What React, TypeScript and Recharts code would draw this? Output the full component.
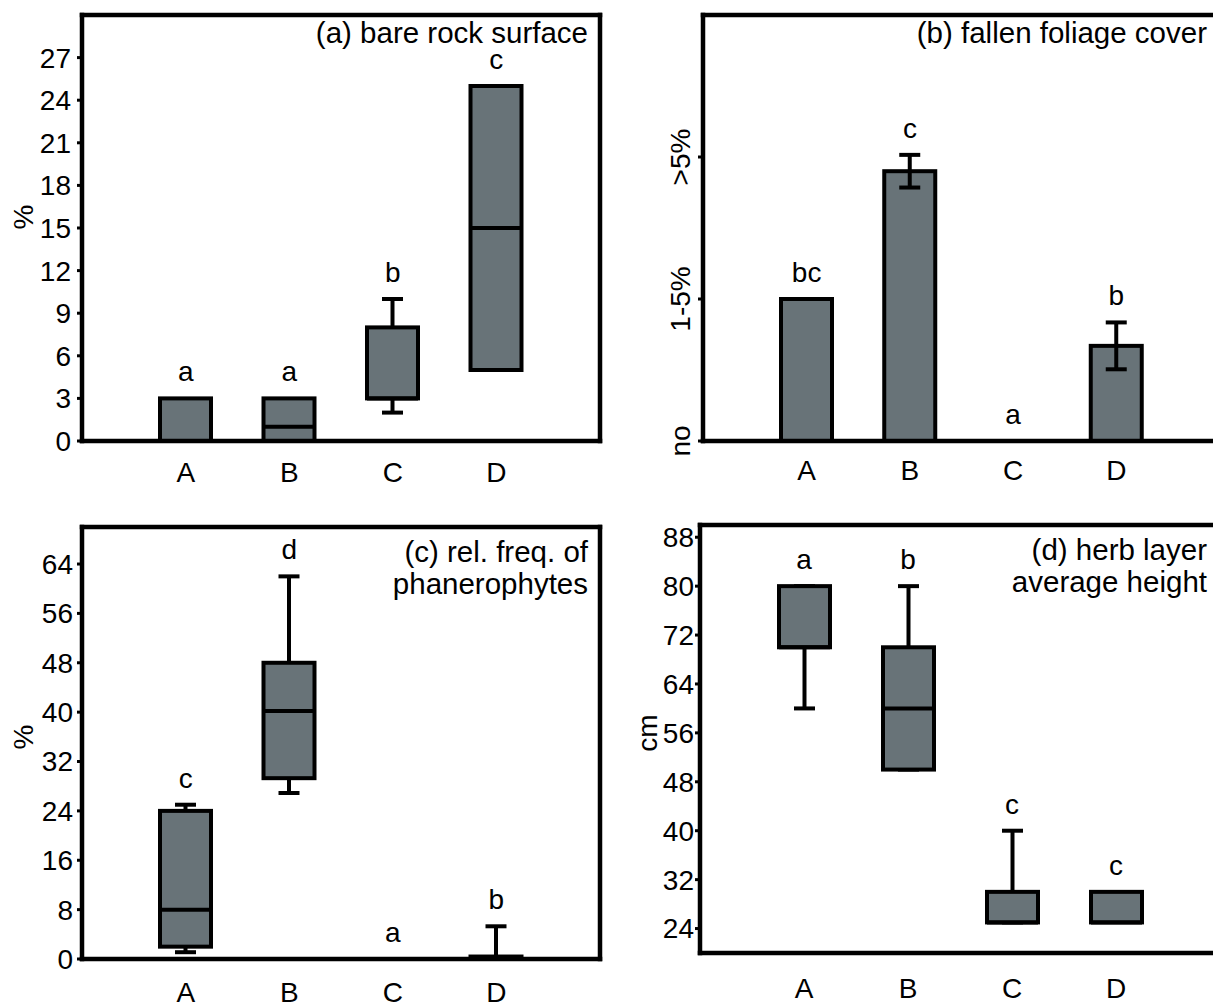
import React from 'react';
import { ComposedChart, Bar, Scatter, XAxis, YAxis, Label } from 'recharts';

const FONT = '"Liberation Sans", Arial, Helvetica, sans-serif';
const INK = '#000';
const BOX_FILL = '#687378';

const sites = ['A', 'B', 'C', 'D'];

// (a) bare rock surface, %
const rockQ1 = [0, 0, 3, 5];
const rockMedian = [0, 1, 3, 15];
const rockQ3 = [3, 3, 8, 25];
const rockLow = [null, null, 2, null];
const rockHigh = [null, null, 10, null];
const rockLetters = ['a', 'a', 'b', 'c'];
const rockTicks = [0, 3, 6, 9, 12, 15, 18, 21, 24, 27];

// (b) fallen foliage cover, mean class with error
const foliageMean = [1.0, 1.9, 0, 0.67];
const foliageErr = [null, 0.115, null, 0.165];
const foliageLetters = ['bc', 'c', 'a', 'b'];
const foliageTicks = [0, 1, 2];
const foliageTickLabels = ['no', '1-5%', '>5%'];

// (c) rel. freq. of phanerophytes, %
const phanQ1 = [2, 29.3, null, 0];
const phanMedian = [8, 40.2, null, 0];
const phanQ3 = [24, 48, null, 0.4];
const phanLow = [1.1, 26.9, null, null];
const phanHigh = [25, 62, null, 5.3];
const phanLetters = ['c', 'd', 'a', 'b'];
const phanTicks = [0, 8, 16, 24, 32, 40, 48, 56, 64];

// (d) herb layer average height, cm
const herbQ1 = [70, 50, 25, 25];
const herbMedian = [70, 60, 25, 25];
const herbQ3 = [80, 70, 30, 30];
const herbLow = [60, null, null, null];
const herbHigh = [null, 80, 40, null];
const herbLetters = ['a', 'b', 'c', 'c'];
const herbTicks = [24, 32, 40, 48, 56, 64, 72, 80, 88];

const boxRows = (q1, med, q3, lo, hi, letters) =>
  sites.map((site, i) => {
    const hasBox = q1[i] != null && q3[i] != null;
    const hasWhisker = lo[i] != null || hi[i] != null;
    return {
      site,
      box: hasBox ? [q1[i], q3[i]] : null,
      median: med[i],
      whisker: hasWhisker ? [lo[i] ?? q1[i], hi[i] ?? q3[i]] : null,
      top: Math.max(hi[i] ?? 0, q3[i] ?? 0),
      letter: letters[i],
    };
  });

const meanRows = sites.map((site, i) => {
  const m = foliageMean[i];
  const e = foliageErr[i];
  return {
    site,
    box: m > 0 ? [0, m] : null,
    median: null,
    whisker: e != null ? [m - e, m + e] : null,
    top: e != null ? m + e : m,
    letter: foliageLetters[i],
  };
});

const AXIS_LINE = { stroke: INK, strokeWidth: 4.5, strokeLinecap: 'square' as const };
const PAD = { left: 52, right: 52 };

const BoxShape = (props: any) => {
  const { x, y, width, height, payload } = props;
  if (!payload || payload.box == null || !Number.isFinite(height)) return <g />;
  const [lo, hi] = payload.box;
  let medY: number | null = null;
  if (payload.median != null && hi > lo) {
    medY = y + (height * (hi - payload.median)) / (hi - lo);
  }
  return (
    <g>
      <rect x={x} y={y} width={width} height={Math.max(height, 0)} fill={BOX_FILL} stroke={INK} strokeWidth={4} />
      {medY != null && <line x1={x} x2={x + width} y1={medY} y2={medY} stroke={INK} strokeWidth={4} />}
    </g>
  );
};

const WhiskerShape = (props: any) => {
  const { x, y, width, height, payload } = props;
  if (!payload || payload.whisker == null || !Number.isFinite(height)) return <g />;
  const cx = x + width / 2;
  const half = 10.5;
  return (
    <g stroke={INK} strokeWidth={4}>
      <line x1={cx} x2={cx} y1={y} y2={y + height} />
      <line x1={cx - half} x2={cx + half} y1={y} y2={y} />
      <line x1={cx - half} x2={cx + half} y1={y + height} y2={y + height} />
    </g>
  );
};

const LetterShape = (props: any) => {
  const { cx, cy, payload } = props;
  return (
    <text x={cx} y={cy - 17} textAnchor="middle" fontSize={28} fontFamily={FONT} fill={INK}>
      {payload.letter}
    </text>
  );
};

const XTick = (props: any) => {
  const { x, y, payload } = props;
  return (
    <text x={x} y={y} dy="0.71em" textAnchor="middle" fontSize={28} fontFamily={FONT} fill={INK}>
      {payload.value}
    </text>
  );
};

const YTick = (props: any) => {
  const { x, y, payload } = props;
  return (
    <text x={x} y={y} dy="0.355em" textAnchor="end" fontSize={28} fontFamily={FONT} fill={INK}>
      {payload.value}
    </text>
  );
};

const FoliageTick = (props: any) => {
  const { x, y, payload } = props;
  const label = foliageTickLabels[foliageTicks.indexOf(payload.value)];
  return (
    <text x={x} y={y} textAnchor="middle" fontSize={28} fontFamily={FONT} fill={INK} transform={`rotate(-90 ${x} ${y})`}>
      {label}
    </text>
  );
};

function Panel(p: any) {
  // whiskers live on the top/right frame axes so they overlap the boxes instead of sitting beside them
  const whisker = (
    <Bar key="w" xAxisId="t" yAxisId="r" dataKey="whisker" barSize={51} shape={WhiskerShape} isAnimationActive={false} />
  );
  const box = (
    <Bar key="b" xAxisId="x" yAxisId="y" dataKey="box" barSize={51} shape={BoxShape} isAnimationActive={false} />
  );
  const titleContent = (lp: any) => {
    const vb = lp.viewBox;
    const tx = vb.x + vb.width - p.titleRight;
    return (
      <text x={tx} y={vb.y + vb.height + p.titleTop} textAnchor="end" fontSize={29.5} fontFamily={FONT} fill={INK}>
        {p.title.map((line: string, i: number) => (
          <tspan key={i} x={tx} dy={i === 0 ? 0 : 32}>
            {line}
          </tspan>
        ))}
      </text>
    );
  };
  const yTitleContent = (lp: any) => {
    const vb = lp.viewBox;
    const tx = vb.x + p.yTitleDx;
    const ty = vb.y + vb.height / 2 + p.yTitleDy;
    return (
      <text x={tx} y={ty} textAnchor="middle" fontSize={28} fontFamily={FONT} fill={INK} transform={`rotate(-90 ${tx} ${ty})`}>
        {p.yTitle}
      </text>
    );
  };
  return (
    <div style={{ position: 'absolute', left: p.left, top: p.top }}>
      <ComposedChart width={620} height={p.height} data={p.rows} margin={{ top: p.marginTop - 1, right: 19, left: 0, bottom: 0 }}>
        <XAxis
          xAxisId="x"
          dataKey="site"
          type="category"
          padding={PAD}
          height={p.xAxisHeight}
          axisLine={AXIS_LINE}
          tickLine={false}
          tickSize={0}
          tickMargin={p.xTickGap}
          interval={0}
          tick={<XTick />}
        />
        <XAxis
          xAxisId="t"
          dataKey="site"
          type="category"
          orientation="top"
          padding={PAD}
          height={1}
          axisLine={AXIS_LINE}
          tick={false}
          tickLine={false}
        >
          <Label content={titleContent} />
        </XAxis>
        <YAxis
          yAxisId="y"
          type="number"
          domain={p.domain}
          ticks={p.ticks}
          interval={0}
          width={p.yAxisWidth}
          axisLine={AXIS_LINE}
          tickLine={{ stroke: INK, strokeWidth: 3 }}
          tickSize={5}
          tickMargin={p.yTickMargin}
          tick={p.tick}
        >
          {p.yTitle ? <Label content={yTitleContent} /> : null}
        </YAxis>
        <YAxis
          yAxisId="r"
          type="number"
          orientation="right"
          width={1}
          domain={p.domain}
          axisLine={AXIS_LINE}
          tick={false}
          tickLine={false}
        />
        {p.whiskerOnTop ? [box, whisker] : [whisker, box]}
        <Scatter xAxisId="x" yAxisId="y" dataKey="top" shape={LetterShape} isAnimationActive={false} />
      </ComposedChart>
    </div>
  );
}

export default function App() {
  return (
    <div
      style={{
        position: 'absolute',
        left: 0,
        top: 0,
        width: 1213,
        height: 1003,
        overflow: 'hidden',
        background: '#fff',
        fontFamily: FONT,
      }}
    >
      <Panel
        left={0}
        top={0}
        height={500}
        marginTop={15}
        xAxisHeight={59}
        xTickGap={21}
        yAxisWidth={82}
        yTickMargin={6}
        rows={boxRows(rockQ1, rockMedian, rockQ3, rockLow, rockHigh, rockLetters)}
        domain={[0, 30]}
        ticks={rockTicks}
        tick={<YTick />}
        title={['(a) bare rock surface']}
        titleRight={12}
        titleTop={28}
        yTitle="%"
        yTitleDx={33}
        yTitleDy={-11}
      />
      <Panel
        left={620}
        top={0}
        height={500}
        marginTop={15}
        xAxisHeight={59}
        xTickGap={19}
        yAxisWidth={83}
        yTickMargin={8}
        rows={meanRows}
        domain={[0, 3]}
        ticks={foliageTicks}
        tick={<FoliageTick />}
        title={['(b) fallen foliage cover']}
        titleRight={13}
        titleTop={28}
        whiskerOnTop
      />
      <Panel
        left={0}
        top={500}
        height={503}
        marginTop={27}
        xAxisHeight={44}
        xTickGap={23}
        yAxisWidth={82}
        yTickMargin={4}
        rows={boxRows(phanQ1, phanMedian, phanQ3, phanLow, phanHigh, phanLetters)}
        domain={[0, 70]}
        ticks={phanTicks}
        tick={<YTick />}
        title={['(c) rel. freq. of', 'phanerophytes']}
        titleRight={12}
        titleTop={35}
        yTitle="%"
        yTitleDx={33}
        yTitleDy={-6}
      />
      <Panel
        left={620}
        top={500}
        height={503}
        marginTop={25}
        xAxisHeight={50}
        xTickGap={25}
        yAxisWidth={80}
        yTickMargin={1}
        rows={boxRows(herbQ1, herbMedian, herbQ3, herbLow, herbHigh, herbLetters)}
        domain={[20, 90]}
        ticks={herbTicks}
        tick={<YTick />}
        title={['(d) herb layer', 'average height']}
        titleRight={13}
        titleTop={35}
        yTitle="cm"
        yTitleDx={37}
        yTitleDy={-6}
      />
    </div>
  );
}
